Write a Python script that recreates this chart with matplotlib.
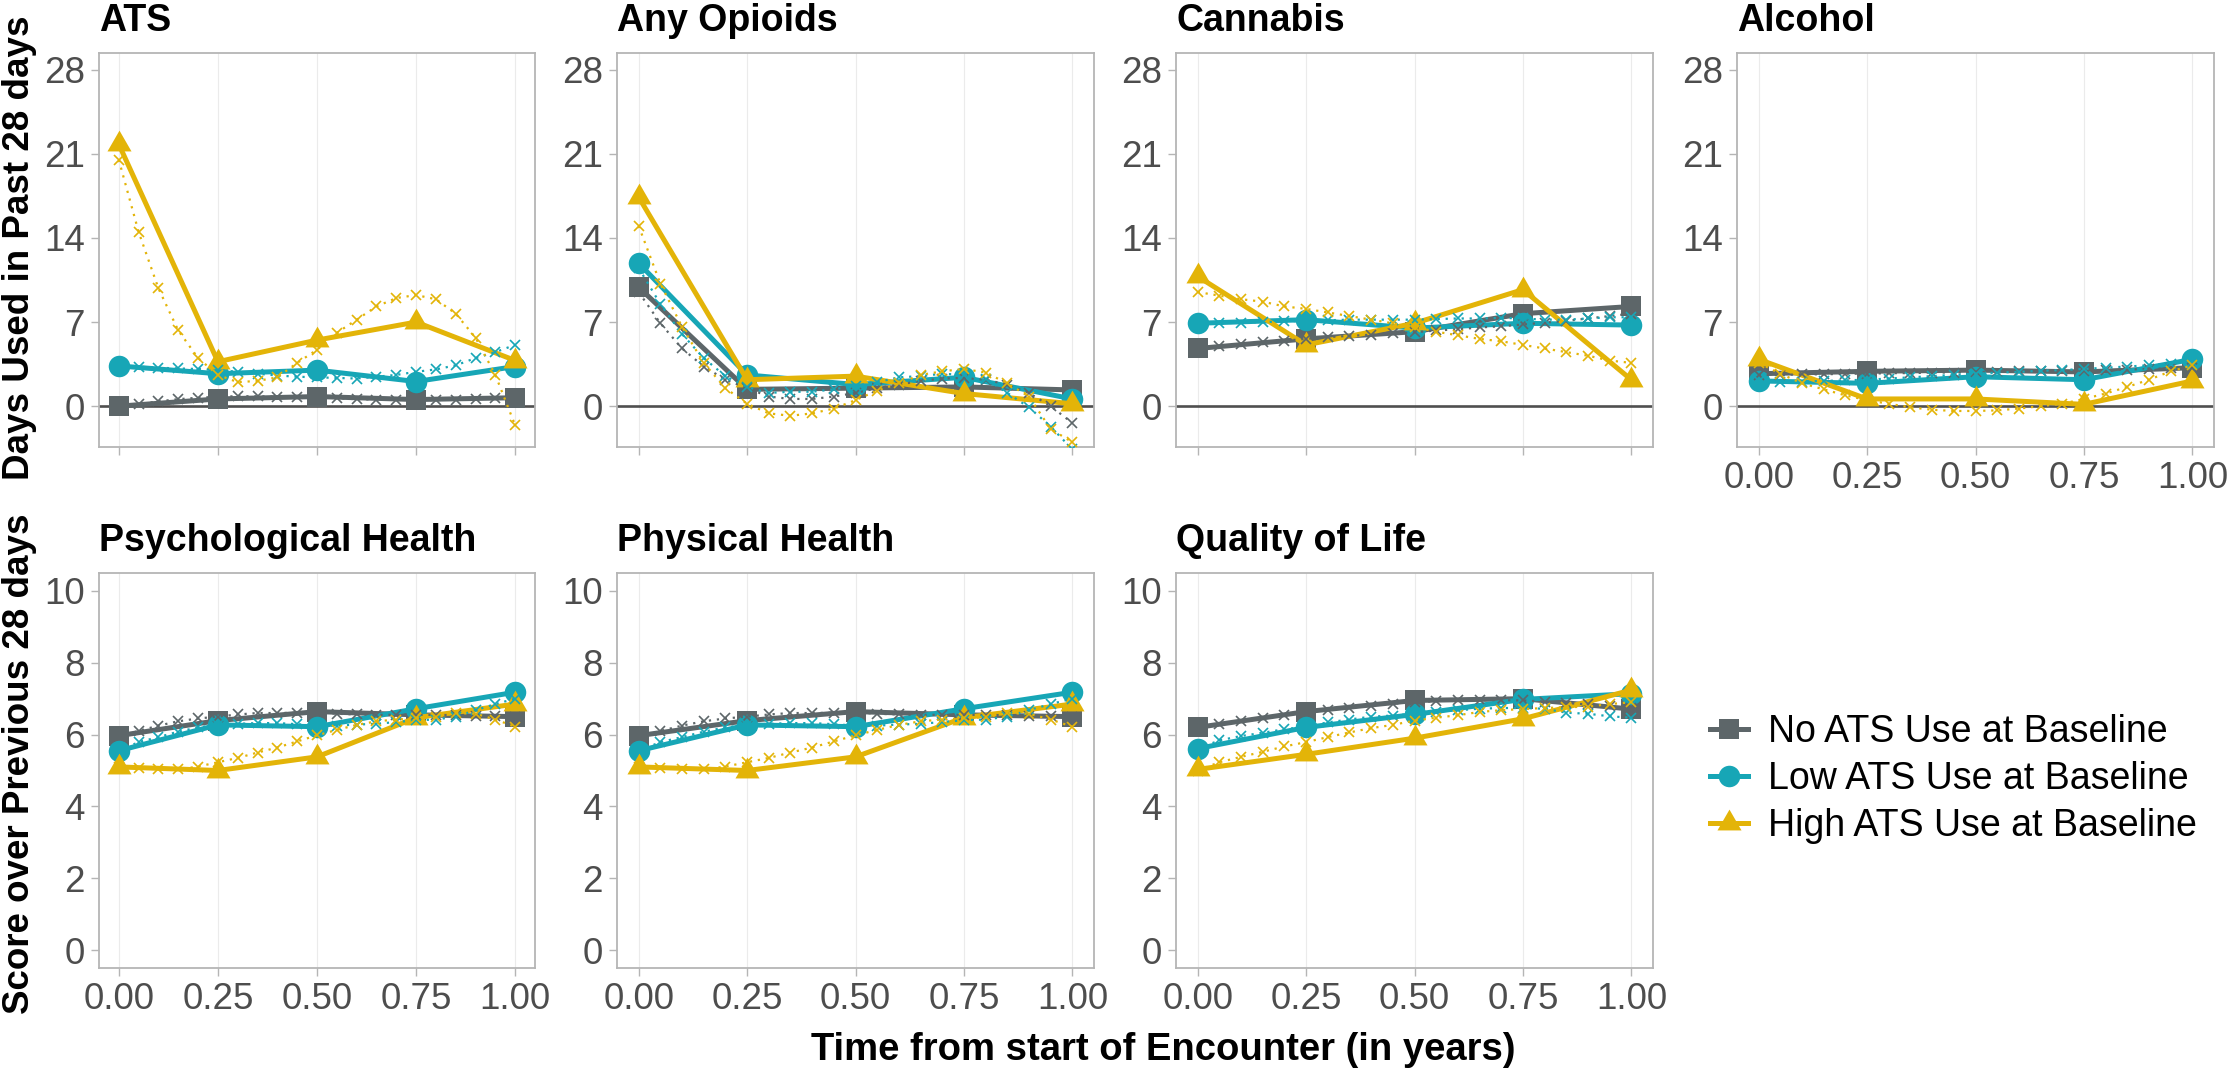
import matplotlib
matplotlib.use("Agg")
import matplotlib.pyplot as plt
from matplotlib.lines import Line2D

plt.rcParams['font.family'] = ['Liberation Sans', 'DejaVu Sans']

# ---------------------------------------------------------------- data
groups = ["No ATS Use at Baseline", "Low ATS Use at Baseline", "High ATS Use at Baseline"]
visits = [0.00, 0.25, 0.50, 0.75, 1.00]
fit_time = [0.00, 0.05, 0.10, 0.15, 0.20, 0.25, 0.30, 0.35, 0.40, 0.45, 0.50,
            0.55, 0.60, 0.65, 0.70, 0.75, 0.80, 0.85, 0.90, 0.95, 1.00]

substance_titles = ["ATS", "Any Opioids", "Cannabis", "Alcohol"]
wellbeing_titles = ["Psychological Health", "Physical Health", "Quality of Life"]

# observed group means at each visit (No / Low / High)
ats_obs = [[0.0, 0.6, 0.8, 0.55, 0.7],
           [3.35, 2.7, 3.0, 2.05, 3.3],
           [21.8, 3.7, 5.5, 7.0, 3.8]]
opioid_obs = [[9.9, 1.4, 1.5, 1.6, 1.35],
              [11.9, 2.6, 1.8, 2.4, 0.6],
              [17.4, 2.2, 2.5, 1.05, 0.2]]
cannabis_obs = [[4.8, 5.6, 6.2, 7.7, 8.3],
                [6.9, 7.2, 6.5, 6.9, 6.75],
                [10.8, 5.1, 6.9, 9.7, 2.2]]
alcohol_obs = [[2.7, 2.9, 3.0, 2.85, 3.2],
               [2.1, 1.9, 2.45, 2.2, 3.9],
               [3.9, 0.6, 0.6, 0.15, 2.1]]
psych_obs = [[5.97, 6.39, 6.64, 6.55, 6.5],
             [5.55, 6.27, 6.22, 6.72, 7.18],
             [5.1, 5.0, 5.38, 6.47, 6.85]]
physical_obs = [[5.97, 6.39, 6.64, 6.55, 6.5],
                [5.55, 6.27, 6.22, 6.72, 7.18],
                [5.1, 5.0, 5.38, 6.47, 6.85]]
qol_obs = [[6.2, 6.64, 6.95, 7.0, 6.71],
           [5.61, 6.2, 6.56, 6.98, 7.14],
           [5.03, 5.45, 5.9, 6.44, 7.24]]

# model-fitted trajectories (No / Low / High)
ats_fit = [[0.0, 0.17, 0.4, 0.58, 0.7, 0.78, 0.83, 0.82, 0.8, 0.78, 0.75,
            0.66, 0.58, 0.55, 0.52, 0.5, 0.5, 0.55, 0.62, 0.7, 0.75],
           [3.35, 3.28, 3.2, 3.14, 3.09, 3.0, 2.86, 2.7, 2.55, 2.45, 2.4,
            2.35, 2.3, 2.45, 2.6, 2.86, 3.06, 3.4, 4.0, 4.5, 5.1],
           [20.5, 14.5, 9.8, 6.3, 4.0, 2.6, 2.0, 2.1, 2.4, 3.6, 4.7,
            6.1, 7.2, 8.3, 9.0, 9.25, 8.9, 7.7, 5.7, 2.6, -1.6]]
opioid_fit = [[9.5, 6.9, 4.8, 3.3, 2.2, 1.5, 0.8, 0.6, 0.6, 0.8, 1.1,
               1.5, 1.8, 2.1, 2.3, 2.35, 2.2, 1.8, 1.1, 0.0, -1.4],
              [11.5, 8.5, 6.0, 4.0, 2.5, 1.6, 1.1, 1.2, 1.2, 1.4, 1.7,
               2.0, 2.4, 2.5, 2.7, 2.6, 2.3, 1.1, -0.1, -1.7, -3.6],
              [15.0, 10.2, 6.6, 3.6, 1.5, 0.2, -0.6, -0.8, -0.6, -0.2, 0.5,
               1.3, 1.9, 2.6, 2.9, 3.1, 2.8, 1.9, 0.8, -1.9, -3.0]]
cannabis_fit = [[4.8, 5.0, 5.15, 5.3, 5.45, 5.6, 5.75, 5.85, 5.95, 6.05, 6.15,
                 6.3, 6.4, 6.55, 6.65, 6.8, 6.95, 7.1, 7.3, 7.5, 7.7],
                [6.9, 6.9, 6.95, 7.0, 7.05, 7.1, 7.15, 7.2, 7.2, 7.2, 7.2,
                 7.25, 7.3, 7.3, 7.35, 7.3, 7.2, 7.2, 7.3, 7.4, 7.4],
                [9.5, 9.2, 8.9, 8.7, 8.3, 8.1, 7.8, 7.5, 7.2, 6.9, 6.6,
                 6.2, 5.9, 5.6, 5.4, 5.1, 4.8, 4.5, 4.2, 3.8, 3.6]]
alcohol_fit = [[2.6, 2.6, 2.65, 2.65, 2.7, 2.7, 2.75, 2.75, 2.8, 2.8, 2.85,
                2.85, 2.9, 2.9, 2.95, 2.95, 3.0, 3.05, 3.1, 3.15, 3.2],
               [2.1, 2.05, 2.05, 2.1, 2.15, 2.2, 2.3, 2.4, 2.5, 2.6, 2.7,
                2.8, 2.85, 2.95, 3.0, 3.1, 3.2, 3.3, 3.4, 3.55, 3.7],
               [3.6, 2.7, 1.9, 1.4, 0.9, 0.5, 0.2, -0.1, -0.3, -0.4, -0.4,
                -0.35, -0.2, 0.0, 0.2, 0.6, 1.05, 1.6, 2.2, 2.9, 3.4]]
psych_fit = [[5.95, 6.1, 6.25, 6.37, 6.45, 6.5, 6.56, 6.6, 6.6, 6.61, 6.62,
              6.58, 6.56, 6.55, 6.55, 6.55, 6.55, 6.54, 6.53, 6.52, 6.5],
             [5.55, 5.79, 5.93, 6.08, 6.2, 6.27, 6.3, 6.32, 6.32, 6.29, 6.25,
              6.25, 6.28, 6.3, 6.35, 6.4, 6.42, 6.5, 6.68, 6.85, 7.0],
             [5.1, 5.07, 5.03, 5.03, 5.11, 5.23, 5.35, 5.5, 5.64, 5.81, 5.98,
              6.13, 6.27, 6.37, 6.42, 6.46, 6.48, 6.6, 6.58, 6.42, 6.22]]
physical_fit = [[5.95, 6.1, 6.25, 6.37, 6.45, 6.5, 6.56, 6.6, 6.6, 6.61, 6.62,
                 6.58, 6.56, 6.55, 6.55, 6.55, 6.55, 6.54, 6.53, 6.52, 6.5],
                [5.55, 5.79, 5.93, 6.08, 6.2, 6.27, 6.3, 6.32, 6.32, 6.29, 6.25,
                 6.25, 6.28, 6.3, 6.35, 6.4, 6.42, 6.5, 6.68, 6.85, 7.0],
                [5.1, 5.07, 5.03, 5.03, 5.11, 5.23, 5.35, 5.5, 5.64, 5.81, 5.98,
                 6.13, 6.27, 6.37, 6.42, 6.46, 6.48, 6.6, 6.58, 6.42, 6.22]]
qol_fit = [[6.2, 6.3, 6.38, 6.46, 6.54, 6.62, 6.69, 6.75, 6.81, 6.86, 6.9,
            6.93, 6.95, 6.96, 6.96, 6.95, 6.92, 6.88, 6.84, 6.79, 6.73],
           [5.6, 5.84, 5.96, 6.05, 6.15, 6.22, 6.34, 6.42, 6.5, 6.53, 6.58,
            6.64, 6.68, 6.72, 6.74, 6.74, 6.72, 6.61, 6.58, 6.51, 6.47],
           [5.0, 5.23, 5.38, 5.52, 5.67, 5.79, 5.93, 6.06, 6.18, 6.27, 6.39,
            6.47, 6.54, 6.63, 6.68, 6.71, 6.74, 6.76, 6.78, 6.85, 6.9]]

substance_ticks = [0, 7, 14, 21, 28]
wellbeing_ticks = [0, 2, 4, 6, 8, 10]
time_ticks = [0.00, 0.25, 0.50, 0.75, 1.00]
time_labels = ["0.00", "0.25", "0.50", "0.75", "1.00"]

# ---------------------------------------------------------------- style
W, H, DPI = 2227, 1074, 100
colors = ["#5D6669", "#17A6B6", "#E3B408"]
tri = [(0.0, 1.0), (-0.866, -0.5), (0.866, -0.5)]
markers = ["s", "o", tri]
msizes = [14.5, 15.5, 20.0]
LINE_W = 3.6
TICK_FS = 26.5
TITLE_FS = 27
AXTITLE_FS = 26.5

col_px = [(99, 535), (617, 1094), (1176, 1653), (1737, 2214)]
row_px = [(53, 447), (573, 968)]

fig = plt.figure(figsize=(W / DPI, H / DPI), dpi=DPI)


def make_panel(col, row):
    l, r = col_px[col]
    t, b = row_px[row]
    ax = fig.add_axes([l / W, 1 - b / H, (r - l) / W, (b - t) / H])
    for s in ax.spines.values():
        s.set_color("#B5B5B5")
        s.set_linewidth(1.3)
    ax.tick_params(axis="both", colors="#B5B5B5", labelcolor="#4D4D4D",
                   length=6, width=1.0, labelsize=TICK_FS, pad=4)
    ax.set_xlim(-0.05, 1.05)
    ax.set_xticks(time_ticks)
    ax.set_xticklabels(time_labels)
    ax.xaxis.grid(True, color="#EBEBEB", linewidth=0.8)
    ax.yaxis.grid(False)
    ax.set_axisbelow(True)
    return ax


def draw_series(ax, obs, fit):
    for i in range(3):
        ax.plot(visits, obs[i], color=colors[i], lw=LINE_W, marker=markers[i],
                ms=msizes[i], mew=0, zorder=3 + i, solid_joinstyle="round")
    for i in range(3):
        ax.plot(fit_time, fit[i], color=colors[i], lw=1.6, ls=(0, (1, 2.6)),
                marker="x", ms=6.5, mew=1.2, zorder=6 + i)


def add_title(ax, text):
    ax.annotate(text, xy=(0, 1), xycoords="axes fraction", xytext=(0, 16),
                textcoords="offset points", ha="left", va="baseline",
                fontsize=TITLE_FS, fontweight="bold", color="black")


substance_obs = [ats_obs, opioid_obs, cannabis_obs, alcohol_obs]
substance_fit = [ats_fit, opioid_fit, cannabis_fit, alcohol_fit]
for c in range(4):
    ax = make_panel(c, 0)
    ax.axhline(0, color="#4F4F4F", lw=1.9, zorder=2)
    draw_series(ax, substance_obs[c], substance_fit[c])
    ax.set_ylim(-3.4, 29.4)
    ax.set_yticks(substance_ticks)
    if c < 3:
        ax.tick_params(axis="x", labelbottom=False)
    add_title(ax, substance_titles[c])

wellbeing_obs = [psych_obs, physical_obs, qol_obs]
wellbeing_fit = [psych_fit, physical_fit, qol_fit]
for c in range(3):
    ax = make_panel(c, 1)
    draw_series(ax, wellbeing_obs[c], wellbeing_fit[c])
    ax.set_ylim(-0.5, 10.5)
    ax.set_yticks(wellbeing_ticks)
    add_title(ax, wellbeing_titles[c])

# axis titles
fig.text(20 / W, 1 - 248 / H, "Days Used in Past 28 days", rotation=90,
         ha="center", va="center", fontsize=AXTITLE_FS, fontweight="bold")
fig.text(20 / W, 1 - 764 / H, "Score over Previous 28 days", rotation=90,
         ha="center", va="center", fontsize=AXTITLE_FS, fontweight="bold")
fig.text(1163 / W, 1 - 1050 / H, "Time from start of Encounter (in years)",
         ha="center", va="center", fontsize=27.5, fontweight="bold")

# legend
handles = [Line2D([], [], color=colors[i], lw=LINE_W, marker=markers[i],
                  ms=msizes[i], mew=0) for i in range(3)]
fig.legend(handles, groups, loc="center left",
           bbox_to_anchor=(1710 / W, 1 - 779 / H), frameon=False,
           fontsize=27, handlelength=1.0, handletextpad=0.55,
           labelspacing=0.3, borderpad=0, borderaxespad=0, numpoints=1)

fig.savefig("out.png", dpi=DPI, facecolor="white")
